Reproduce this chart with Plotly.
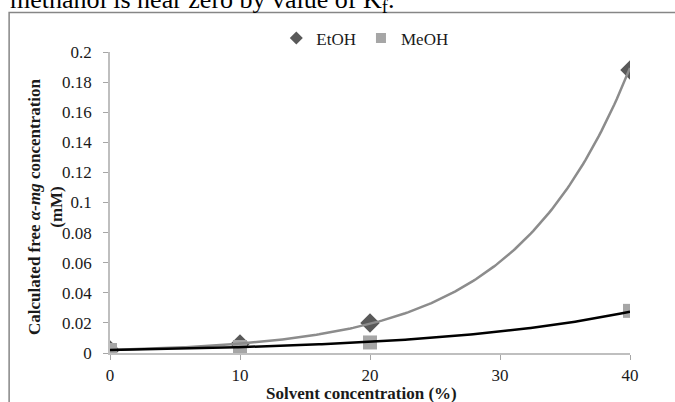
import numpy as np
import plotly.graph_objects as go

# Data
solvent_pct = [0, 10, 20, 40]
etoh = [0.002, 0.006, 0.020, 0.188]
meoh = [0.002, 0.004, 0.007, 0.028]
x_ticks = [0, 10, 20, 30, 40]
y_ticks = [0, 0.02, 0.04, 0.06, 0.08, 0.1, 0.12, 0.14, 0.16, 0.18, 0.2]
y_tick_text = ["0", "0.02", "0.04", "0.06", "0.08", "0.1", "0.12", "0.14", "0.16", "0.18", "0.2"]


def exp_trend(x, y):
    # Excel-style exponential trendline: least squares on ln(y)
    b, ln_a = np.polyfit(np.array(x, float), np.log(np.array(y, float)), 1)
    xs = np.linspace(min(x), max(x), 200)
    return xs, np.exp(ln_a) * np.exp(b * xs)


FONT = "Liberation Serif, Times New Roman, serif"
TXT = "#1a1a1a"
C_ETOH = "#595959"
C_MEOH = "#A6A6A6"

fig = go.Figure()
fig.add_trace(go.Scatter(x=solvent_pct, y=etoh, mode="markers", name="EtOH", showlegend=False,
                         marker=dict(symbol="diamond", size=15, color=C_ETOH)))
fig.add_trace(go.Scatter(x=solvent_pct, y=meoh, mode="markers", name="MeOH", showlegend=False,
                         marker=dict(symbol="square", size=14, color=C_MEOH)))
xe, ye = exp_trend(solvent_pct, etoh)
xm, ym = exp_trend(solvent_pct, meoh)
fig.add_trace(go.Scatter(x=xe, y=ye, mode="lines", showlegend=False,
                         line=dict(color="#8C8C8C", width=2.5), hoverinfo="skip"))
fig.add_trace(go.Scatter(x=xm, y=ym, mode="lines", showlegend=False,
                         line=dict(color="#000000", width=2.5), hoverinfo="skip"))
# legend entries (smaller symbols, as in the reference legend)
fig.add_trace(go.Scatter(x=[None], y=[None], mode="markers", name="EtOH",
                         marker=dict(symbol="diamond", size=10, color=C_ETOH)))
fig.add_trace(go.Scatter(x=[None], y=[None], mode="markers", name="MeOH",
                         marker=dict(symbol="square", size=10, color=C_MEOH)))

fig.update_layout(
    width=675, height=402,
    margin=dict(l=110, r=45, t=52, b=49),
    paper_bgcolor="white", plot_bgcolor="white",
    font=dict(family=FONT, size=17, color=TXT),
    showlegend=True,
    legend=dict(orientation="h", x=0.49, xanchor="center", y=0.985, yanchor="bottom",
                font=dict(family=FONT, size=17, color=TXT),
                itemwidth=30, bgcolor="rgba(0,0,0,0)", tracegroupgap=0),
)
fig.update_xaxes(range=[0, 40], tickvals=x_ticks, ticks="outside", ticklen=5,
                 tickcolor="#A6A6A6", showline=True, linecolor="#BFBFBF", linewidth=1.5,
                 showgrid=False, zeroline=False, ticklabelstandoff=1,
                 tickfont=dict(family=FONT, size=17, color=TXT))
fig.update_yaxes(range=[0, 0.2], tickvals=y_ticks, ticktext=y_tick_text, ticks="outside",
                 ticklen=5, tickcolor="#A6A6A6", showline=True, linecolor="#BFBFBF",
                 linewidth=1.5, showgrid=False, zeroline=False, ticklabelstandoff=8,
                 tickfont=dict(family=FONT, size=17, color=TXT))

# Axis titles
fig.add_annotation(text="<b>Calculated free <i>α-mg</i> concentration<br>(mM)</b>",
                   xref="paper", yref="paper", x=-0.125, y=0.485, xanchor="center",
                   yanchor="middle", textangle=-90, showarrow=False,
                   font=dict(family=FONT, size=17, color=TXT))
fig.add_annotation(text="<b>Solvent concentration (%)</b>",
                   xref="paper", yref="paper", x=0.483, y=-0.136, xanchor="center",
                   yanchor="middle", showarrow=False,
                   font=dict(family=FONT, size=17, color=TXT))

# Cropped caption text from the source page
fig.add_annotation(text="methanol is near zero by value of K<sub>f</sub>.",
                   xref="paper", yref="paper", x=-0.196, y=1.11, xanchor="left",
                   yanchor="bottom", showarrow=False,
                   font=dict(family=FONT, size=26, color="#000000"))

# Chart area border
fig.add_shape(type="rect", xref="paper", yref="paper", x0=-0.194, x1=1.3,
              y0=-0.3, y1=1.131, line=dict(color="#868686", width=1.5),
              fillcolor="rgba(0,0,0,0)", layer="below")

fig.write_html("out.html")
